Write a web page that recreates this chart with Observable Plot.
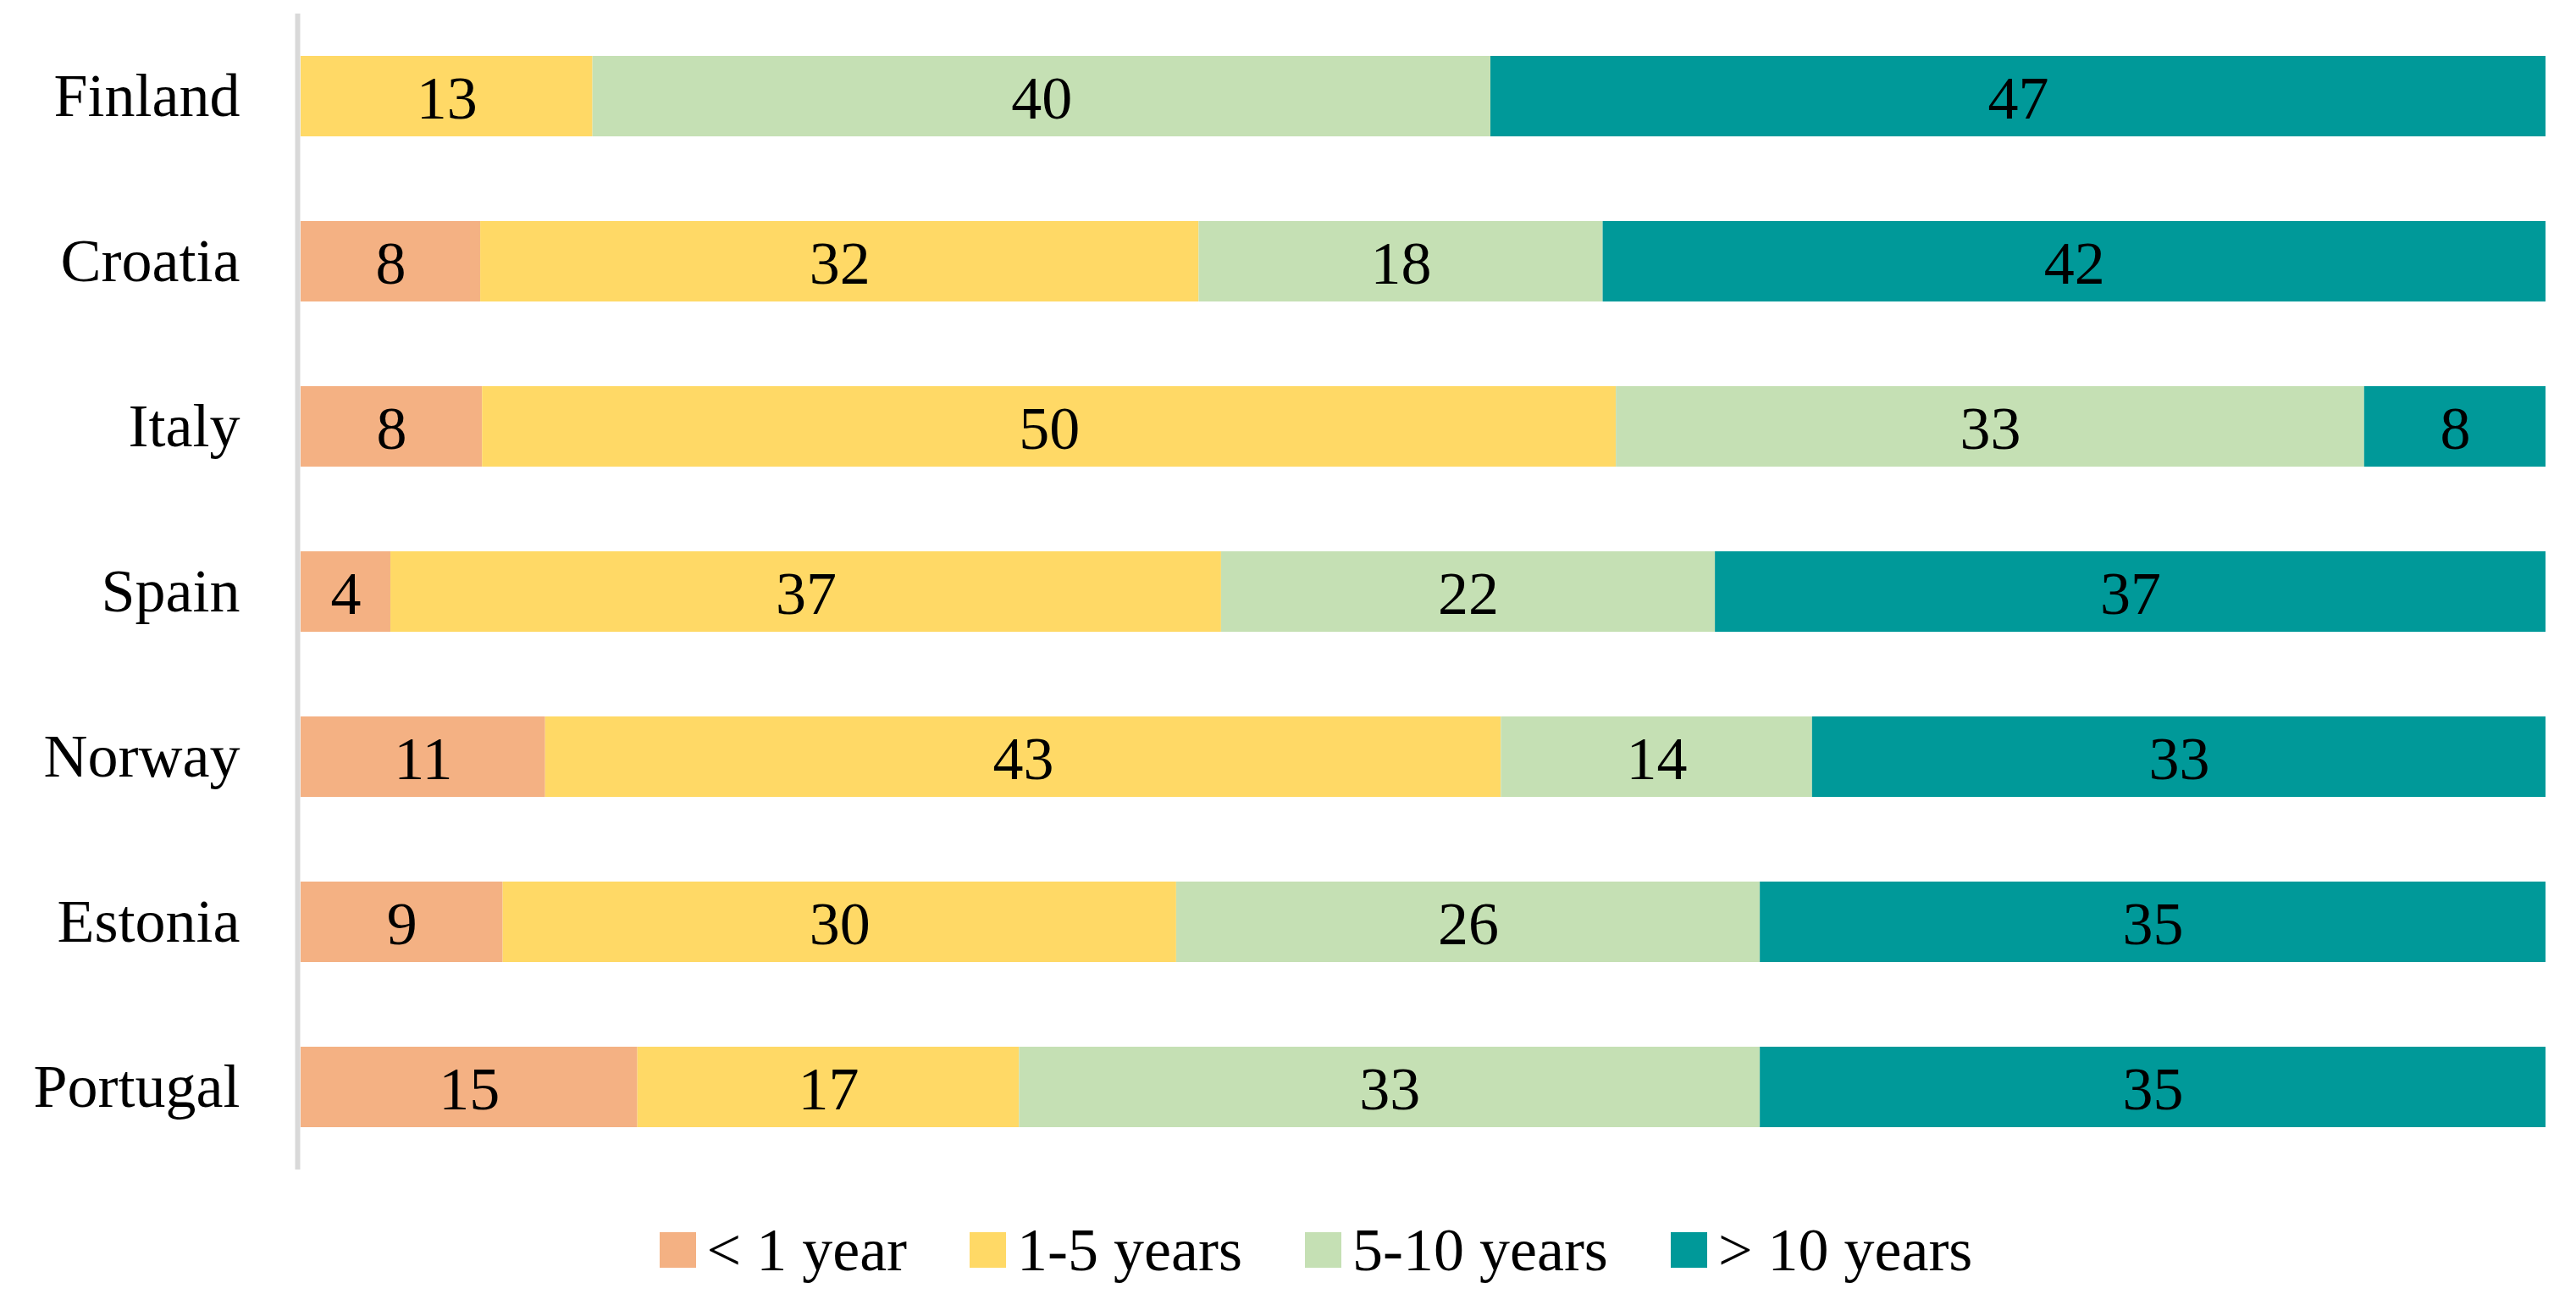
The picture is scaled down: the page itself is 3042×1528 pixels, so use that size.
<!DOCTYPE html>
<html>
<head>
<meta charset="utf-8">
<script src="https://cdn.jsdelivr.net/npm/d3@7"></script>
<script src="https://cdn.jsdelivr.net/npm/@observablehq/plot@0.6"></script>
<style>
  html, body { margin: 0; padding: 0; background: white; overflow: hidden; }
  #legend { display: flex; justify-content: center; align-items: center; gap: 74px; height: 132px;
    padding-left: 66px; box-sizing: border-box; font-family: "Liberation Serif", serif; font-size: 72px; color: black; }
  .item { display: flex; align-items: center; gap: 13px; }
  .sw { width: 43px; height: 42px; display: inline-block; }
</style>
</head>
<body>
<div id="chart"></div>
<div id="legend"></div>
<script>
const countries = ["Finland", "Croatia", "Italy", "Spain", "Norway", "Estonia", "Portugal"];
const categories = ["< 1 year", "1-5 years", "5-10 years", "> 10 years"];
const lessThan1 = [null, 8, 8, 4, 11, 9, 15];
const years1to5 = [13, 32, 50, 37, 43, 30, 17];
const years5to10 = [40, 18, 33, 22, 14, 26, 33];
const moreThan10 = [47, 42, 8, 37, 33, 35, 35];
const colors = ["#F4B183", "#FFD966", "#C5E0B4", "#009999"];

const series = [lessThan1, years1to5, years5to10, moreThan10];
const data = countries.flatMap((c, i) =>
  categories.map((cat, j) => ({country: c, cat, value: series[j][i]}))
).filter(d => d.value != null);

const plot = Plot.plot({
  width: 3042,
  height: 1410,
  marginLeft: 355,
  marginRight: 36,
  marginTop: 16,
  marginBottom: 29,
  style: {fontFamily: "Liberation Serif, serif", fontSize: "72px", background: "white", color: "black"},
  x: {axis: null, domain: [0, 1]},
  y: {domain: countries, paddingInner: 0.515, paddingOuter: 0.2575, axis: null},
  color: {domain: categories, range: colors},
  marks: [
    Plot.barX(data, Plot.stackX({offset: "normalize", x: "value", y: "country", fill: "cat"})),
    Plot.text(data, Plot.stackX({offset: "normalize", x: "value", y: "country", z: "cat", text: d => String(d.value), fill: "black", fontSize: 72, dy: 3})),
    Plot.axisY({tickSize: 0, tickPadding: 72, fontSize: 72, label: null, fill: "black"}),
    Plot.ruleX([0], {stroke: "#d9d9d9", strokeWidth: 6, dx: -4})
  ]
});
document.getElementById("chart").appendChild(plot);

const legend = document.getElementById("legend");
categories.forEach((cat, i) => {
  const item = document.createElement("div");
  item.className = "item";
  const sw = document.createElement("span");
  sw.className = "sw";
  sw.style.background = colors[i];
  const label = document.createElement("span");
  label.textContent = cat;
  item.appendChild(sw);
  item.appendChild(label);
  legend.appendChild(item);
});
</script>
</body>
</html>
